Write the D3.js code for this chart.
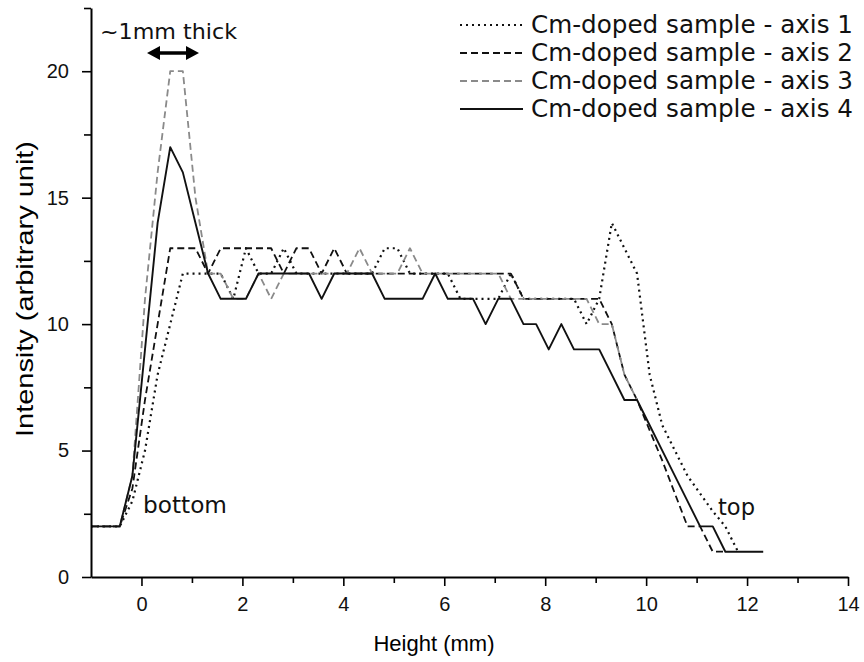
<!DOCTYPE html>
<html lang="en">
<head>
<meta charset="UTF-8" />
<title>Intensity profile</title>
<style>
  body { margin: 0; background: #fff; }
  svg { display: block; font-family: "Liberation Sans", Arial, sans-serif; }
  .axis path, .axis line { stroke: #000; }
  .axis path { stroke-width: 2; }
  .axis line { stroke-width: 1.6; }
  .axis text { font-size: 20px; fill: #111; }
  .note { font-family: "DejaVu Sans", sans-serif; fill: #111; }
</style>
</head>
<body>
<div class="container"></div>
<script src="https://d3js.org/d3.v7.min.js"></script>
<script>
// height positions (mm), shared by all four profiles
const height = [-1, -0.43, -0.18, 0.07, 0.32, 0.57, 0.82, 1.07, 1.32, 1.57,
  1.82, 2.07, 2.32, 2.57, 2.82, 3.07, 3.32, 3.57, 3.82, 4.07,
  4.32, 4.57, 4.82, 5.07, 5.32, 5.57, 5.82, 6.07, 6.32, 6.57,
  6.82, 7.07, 7.32, 7.57, 7.82, 8.07, 8.32, 8.57, 8.82, 9.07,
  9.32, 9.57, 9.82, 10.07, 10.32, 10.57, 10.82, 11.07, 11.32, 11.57,
  11.82, 12.07, 12.32];

// intensities
const axis1 = [2, 2, 3, 5, 8, 10, 12, 12, 12, 12,
  11, 13, 12, 12, 13, 12, 12, 12, 12, 12,
  12, 12, 13, 13, 12, 12, 12, 12, 11, 11,
  11, 11, 12, 11, 11, 11, 11, 11, 10, 11,
  14, 13, 12, 8, 6, 5, 4, 3.3, 2.6, 2,
  1];
const axis2 = [2, 2, 3.5, 7, 10, 13, 13, 13, 12, 13,
  13, 13, 13, 13, 12, 13, 13, 12, 13, 12,
  12, 12, 12, 12, 12, 12, 12, 12, 12, 12,
  12, 12, 12, 11, 11, 11, 11, 11, 11, 11,
  10, 8, 7, 5.8, 4.6, 3.3, 2, 2, 1, 1];
const axis3 = [2, 2, 4, 11, 16, 20, 20, 15, 12, 12,
  11, 11, 12, 11, 12, 12, 12, 12, 12, 12,
  13, 12, 12, 12, 13, 12, 12, 12, 12, 12,
  12, 12, 11, 11, 11, 11, 11, 11, 11, 10,
  10, 8, 7];
const axis4 = [2, 2, 4, 9, 14, 17, 16, 14, 12, 11,
  11, 11, 12, 12, 12, 12, 12, 11, 12, 12,
  12, 12, 11, 11, 11, 11, 12, 11, 11, 11,
  10, 11, 11, 10, 10, 9, 10, 9, 9, 9,
  8, 7, 7, 6, 5, 4, 3, 2, 2, 1,
  1, 1, 1];

const seriesNames = ["Cm-doped sample - axis 1", "Cm-doped sample - axis 2",
  "Cm-doped sample - axis 3", "Cm-doped sample - axis 4"];

const xTicks = [0, 2, 4, 6, 8, 10, 12, 14];
const xMinor = [1, 3, 5, 7, 9, 11, 13];
const yTicks = [0, 5, 10, 15, 20];
const yMinor = [2.5, 7.5, 12.5, 17.5, 22.5];

const series = [
  { name: seriesNames[0], values: axis1, color: "#111", dash: "2,4", w: 2.2 },
  { name: seriesNames[1], values: axis2, color: "#111", dash: "7,4", w: 1.8 },
  { name: seriesNames[2], values: axis3, color: "#8a8a8a", dash: "7,4", w: 1.8 },
  { name: seriesNames[3], values: axis4, color: "#111", dash: null, w: 1.9 }
];

const svg = d3.select(".container").append("svg")
  .attr("width", 864).attr("height", 662);

const scX = d3.scaleLinear().domain([-1, 14]).range([91, 848]);
const scY = d3.scaleLinear().domain([0, 22.5]).range([577, 8]);

// profiles
const line = d3.line()
  .x((d, i) => scX(height[i]))
  .y(d => scY(d));

svg.selectAll("path.profile")
  .data(series)
  .enter()
  .append("path")
  .attr("class", "profile")
  .attr("fill", "none")
  .attr("stroke", d => d.color)
  .attr("stroke-width", d => d.w)
  .attr("stroke-dasharray", d => d.dash)
  .attr("stroke-linejoin", "round")
  .attr("d", d => line(d.values));

// axes
svg.append("g").attr("class", "axis")
  .attr("transform", "translate(0,577)")
  .call(d3.axisBottom(scX).tickValues(xTicks).tickSize(9).tickSizeOuter(0).tickPadding(11));
svg.append("g").attr("class", "axis")
  .attr("transform", "translate(0,577)")
  .call(d3.axisBottom(scX).tickValues(xMinor).tickSize(6).tickFormat(""))
  .select(".domain").remove();

svg.append("g").attr("class", "axis")
  .attr("transform", "translate(91,0)")
  .call(d3.axisLeft(scY).tickValues(yTicks).tickSize(9).tickSizeOuter(0).tickPadding(13));
svg.append("g").attr("class", "axis")
  .attr("transform", "translate(91,0)")
  .call(d3.axisLeft(scY).tickValues(yMinor).tickSize(7).tickFormat(""))
  .select(".domain").remove();

// axis titles
svg.append("text")
  .attr("x", 434).attr("y", 651)
  .attr("text-anchor", "middle")
  .style("font-size", "22px")
  .text("Height (mm)");

svg.append("text")
  .attr("transform", "translate(33,289) rotate(-90)")
  .attr("text-anchor", "middle")
  .style("font-size", "24px")
  .attr("textLength", 296)
  .attr("lengthAdjust", "spacingAndGlyphs")
  .text("Intensity (arbitrary unit)");

// legend
const legend = svg.append("g");
const rows = legend.selectAll("g")
  .data(series)
  .enter()
  .append("g")
  .attr("transform", (d, i) => `translate(0,${33 + i * 28})`);
rows.append("line")
  .attr("x1", 460).attr("x2", 523)
  .attr("y1", -8).attr("y2", -8)
  .attr("stroke", d => d.color)
  .attr("stroke-width", d => d.w)
  .attr("stroke-dasharray", d => d.dash);
rows.append("text")
  .attr("x", 531).attr("y", 0)
  .attr("class", "note")
  .style("font-size", "24px")
  .attr("textLength", 322)
  .attr("lengthAdjust", "spacingAndGlyphs")
  .text(d => d.name);

// annotations
svg.append("text").attr("class", "note")
  .attr("x", 100).attr("y", 39)
  .style("font-size", "22px")
  .attr("textLength", 137)
  .attr("lengthAdjust", "spacingAndGlyphs")
  .text("~1mm thick");

svg.append("line")
  .attr("x1", 156).attr("x2", 190)
  .attr("y1", 53).attr("y2", 53)
  .attr("stroke", "#000").attr("stroke-width", 3.5);
svg.append("path")
  .attr("d", "M147,53 L160,46 L160,60 Z M199,53 L186,46 L186,60 Z")
  .attr("fill", "#000");

svg.append("text").attr("class", "note")
  .attr("x", 143).attr("y", 513)
  .style("font-size", "23px")
  .attr("textLength", 84)
  .attr("lengthAdjust", "spacingAndGlyphs")
  .text("bottom");

svg.append("text").attr("class", "note")
  .attr("x", 718).attr("y", 515)
  .style("font-size", "23px")
  .attr("textLength", 37)
  .attr("lengthAdjust", "spacingAndGlyphs")
  .text("top");
</script>
</body>
</html>
